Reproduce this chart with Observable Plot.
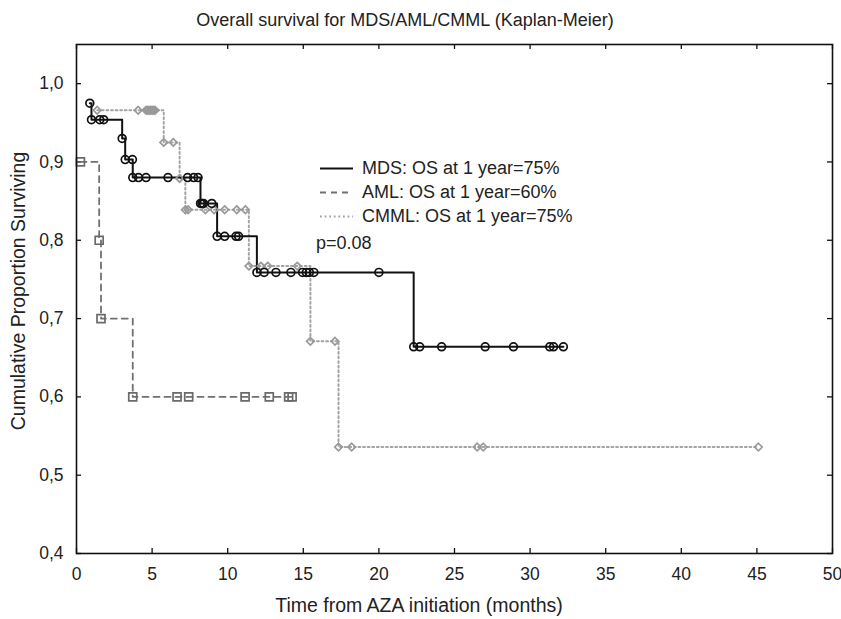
<!DOCTYPE html>
<html>
<head>
<meta charset="utf-8">
<script src="https://cdn.jsdelivr.net/npm/d3@7"></script>
<script src="https://cdn.jsdelivr.net/npm/@observablehq/plot@0.6"></script>
<style>
  body { margin: 0; background: #fff; }
  #wrap { position: relative; width: 841px; height: 619px; overflow: hidden; font-family: "Liberation Sans", Arial, sans-serif; color: #222; }
  #title { position: absolute; left: 0; top: 0; width: 810px; height: 40px; line-height: 40px; text-align: center; font-size: 18px; }
  #chart { position: absolute; left: 0; top: 40px; }
  .lab { position: absolute; font-size: 19.5px; white-space: nowrap; }
  .row { position: absolute; height: 20px; line-height: 20px; font-size: 18px; white-space: nowrap; }
</style>
</head>
<body>
<div id="wrap">
  <div id="title">Overall survival for MDS/AML/CMML (Kaplan-Meier)</div>
  <div id="chart"></div>
  <div class="lab" id="xlab" style="left:0;width:838px;text-align:center;top:594px;">Time from AZA initiation (months)</div>
  <div class="lab" id="ylab" style="left:18px;top:291px;transform:translate(-50%,-50%) rotate(-90deg);">Cumulative Proportion Surviving</div>
  <div id="legend"></div>
</div>
<script>
// ---- data (months, cumulative proportion surviving) ----
const mdsTime = [0.88, 0.99, 1.54, 1.8, 3.02, 3.22, 3.7, 3.72, 4.1, 4.6, 6.05, 7.35, 7.75, 8.04, 8.2, 8.3, 8.4, 8.95, 9.3, 9.8, 10.55, 10.72, 11.93, 12.41, 13.19, 14.18, 14.95, 15.2, 15.4, 15.7, 20.0, 22.3, 22.7, 24.15, 27.03, 28.9, 31.3, 31.55, 32.2];
const mdsSurv = [0.975, 0.954, 0.954, 0.954, 0.930, 0.903, 0.903, 0.880, 0.880, 0.880, 0.880, 0.880, 0.880, 0.880, 0.847, 0.847, 0.847, 0.847, 0.805, 0.805, 0.805, 0.805, 0.759, 0.759, 0.759, 0.759, 0.759, 0.759, 0.759, 0.759, 0.759, 0.664, 0.664, 0.664, 0.664, 0.664, 0.664, 0.664, 0.664];

const amlTime = [0.26, 1.5, 1.62, 3.72, 6.65, 7.42, 11.15, 12.75, 14.03, 14.26];
const amlSurv = [0.9, 0.8, 0.7, 0.6, 0.6, 0.6, 0.6, 0.6, 0.6, 0.6];

const cmmlTime = [1.37, 4.08, 4.6, 4.7, 4.8, 4.9, 5.0, 5.1, 5.2, 5.77, 6.4, 6.82, 7.2, 7.38, 8.53, 9.1, 9.8, 10.6, 11.17, 11.4, 12.2, 12.65, 14.6, 15.47, 17.1, 17.33, 18.2, 26.5, 26.9, 45.1];
const cmmlSurv = [0.966, 0.966, 0.966, 0.966, 0.966, 0.966, 0.966, 0.966, 0.966, 0.925, 0.925, 0.879, 0.839, 0.839, 0.839, 0.839, 0.839, 0.839, 0.839, 0.767, 0.767, 0.767, 0.767, 0.671, 0.671, 0.536, 0.536, 0.536, 0.536, 0.536];

const xTicks = [0, 5, 10, 15, 20, 25, 30, 35, 40, 45, 50];
const yTicks = [0.4, 0.5, 0.6, 0.7, 0.8, 0.9, 1.0];
const legendLabels = ["MDS: OS at 1 year=75%", "AML: OS at 1 year=60%", "CMML: OS at 1 year=75%"];
const pLabel = "p=0.08";

// ---- build tables ----
const toRows = (ts, ss) => ts.map((t, i) => ({t, s: ss[i]}));
const mds = toRows(mdsTime, mdsSurv);
const aml = toRows(amlTime, amlSurv);
const cmml = toRows(cmmlTime, cmmlSurv);

const W = 841, H = 579, mT = 4, mB = 66, mL = 76, mR = 9;
const plotH = H - mT - mB, plotW = W - mL - mR;
const tk = 5;

const styles = {
  mds:  {stroke: "#111111", width: 2, dash: null, symbol: "circle", r: 3.9},
  aml:  {stroke: "#707070", width: 1.8, dash: "6,5", symbol: "square", r: 4.5},
  cmml: {stroke: "#a3a3a3", width: 2, dash: "1.8,2.8", symbol: "diamond2", r: 3.4}
};

const chart = Plot.plot({
  width: W, height: H,
  marginTop: mT, marginBottom: mB, marginLeft: mL, marginRight: mR,
  style: {fontFamily: '"Liberation Sans", Arial, sans-serif', fontSize: "17.5px", color: "#222", background: "#fff"},
  x: {domain: [0, 50]},
  y: {domain: [0.4, 1.05]},
  marks: [
    Plot.axisX({ticks: xTicks, tickSize: 0, tickPadding: 14, label: null, fontSize: 17.5}),
    Plot.axisY({ticks: yTicks, tickSize: 0, tickPadding: 13, label: null, fontSize: 17.5,
                tickFormat: d => d.toFixed(1).replace(".", ",")}),
    // inward ticks on all four sides
    Plot.tickX(xTicks, {x: d => d, insetTop: plotH - tk, stroke: "#111", strokeWidth: 1.3}),
    Plot.tickX(xTicks, {x: d => d, insetBottom: plotH - tk, stroke: "#111", strokeWidth: 1.3}),
    Plot.tickY(yTicks, {y: d => d, insetRight: plotW - tk, stroke: "#111", strokeWidth: 1.3}),
    Plot.tickY(yTicks, {y: d => d, insetLeft: plotW - tk, stroke: "#111", strokeWidth: 1.3}),
    // series
    Plot.line(cmml, {x: "t", y: "s", curve: "step-after", stroke: styles.cmml.stroke, strokeWidth: styles.cmml.width, strokeDasharray: styles.cmml.dash}),
    Plot.line(aml, {x: "t", y: "s", curve: "step-after", stroke: styles.aml.stroke, strokeWidth: styles.aml.width, strokeDasharray: styles.aml.dash}),
    Plot.line(mds, {x: "t", y: "s", curve: "step-after", stroke: styles.mds.stroke, strokeWidth: styles.mds.width}),
    Plot.dot(cmml, {x: "t", y: "s", symbol: styles.cmml.symbol, r: styles.cmml.r, stroke: "#999", strokeWidth: 1.7, fill: "none"}),
    Plot.dot(aml, {x: "t", y: "s", symbol: styles.aml.symbol, r: styles.aml.r, stroke: "#6a6a6a", strokeWidth: 1.7, fill: "none"}),
    Plot.dot(mds, {x: "t", y: "s", symbol: styles.mds.symbol, r: styles.mds.r, stroke: "#111", strokeWidth: 1.7, fill: "none"}),
    Plot.frame({stroke: "#111", strokeWidth: 1.6})
  ]
});
document.getElementById("chart").appendChild(chart);

// ---- legend overlay ----
const legend = document.getElementById("legend");
const keys = ["mds", "aml", "cmml"];
const rowCenters = [168, 192, 216];
keys.forEach((k, i) => {
  const st = styles[k];
  const row = document.createElement("div");
  row.className = "row";
  row.style.left = "320px";
  row.style.top = (rowCenters[i] - 10) + "px";
  row.innerHTML = `<svg width="34" height="20" style="vertical-align:top;margin-right:8px"><line x1="0" x2="33" y1="10.5" y2="10.5" stroke="${st.stroke}" stroke-width="${st.width}" ${st.dash ? `stroke-dasharray="${st.dash}"` : ""}/></svg>${legendLabels[i]}`;
  legend.appendChild(row);
});
const p = document.createElement("div");
p.className = "row";
p.style.left = "316px";
p.style.top = "233px";
p.textContent = pLabel;
legend.appendChild(p);
</script>
</body>
</html>
